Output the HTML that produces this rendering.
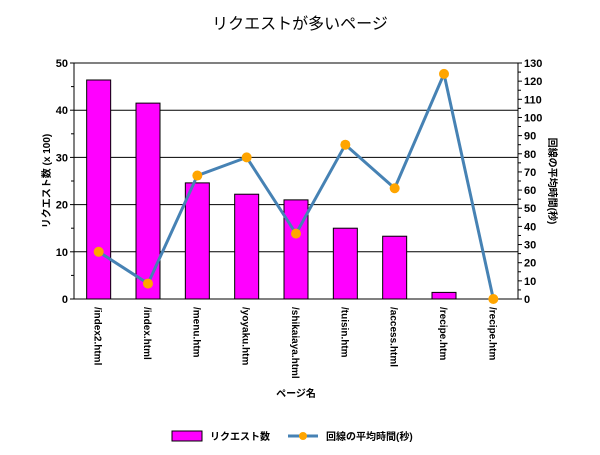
<!DOCTYPE html>
<html><head><meta charset="utf-8"><style>
body{margin:0;background:#fff;width:600px;height:450px;overflow:hidden}
svg text{font-family:"Liberation Sans","Noto Sans CJK JP",sans-serif;}
</style></head><body>
<svg id="c" width="600" height="450" xmlns="http://www.w3.org/2000/svg">
<text x="300" y="29" text-anchor="middle" font-size="16">リクエストが多いページ</text>
<g id="g"></g>
</svg>
<script>
const categories=["/index2.html","/index.html","/menu.htm","/yoyaku.htm","/shikaiaya.html","/tuisin.htm","/access.html","/recipe.htm","/recipe.htm"];
const requests=[46.4,41.5,24.6,22.2,21,15,13.3,1.4,0];
const avgTime=[26,8.5,68,78,36,85,61,124,0];
const leftTicks=[0,10,20,30,40,50];
const rightTicks=[0,10,20,30,40,50,60,70,80,90,100,110,120,130];
const L=74,R=518,T=63,B=299;
const yl=v=>B-(v/50)*(B-T), yr=v=>B-(v/130)*(B-T);
const bw=(R-L)/categories.length, xc=i=>L+bw*(i+0.5);
const g=document.getElementById('g');const NS="http://www.w3.org/2000/svg";
function mk(t,a,txt){const e=document.createElementNS(NS,t);for(const k in a)e.setAttribute(k,a[k]);if(txt!=null)e.textContent=txt;g.appendChild(e);return e;}
leftTicks.forEach(v=>{
 if(v>0){const l=mk('line',{x1:L,x2:R,y1:yl(v),y2:yl(v),stroke:'#000','stroke-width':1});
 
 }
 const t=mk('text',{x:L-6,y:yl(v)+4,'text-anchor':'end','font-size':11,'font-weight':'bold'},v);
 
 
 mk('line',{x1:L-4,x2:L,y1:yl(v),y2:yl(v),stroke:'#000'});
 if(v<50)mk('line',{x1:L-3,x2:L,y1:yl(v+5),y2:yl(v+5),stroke:'#000'});
});
rightTicks.forEach(v=>{
 const t=mk('text',{x:R+6,y:yr(v)+4,'font-size':11,'font-weight':'bold'},v);
 
 
 mk('line',{x1:R,x2:R+4,y1:yr(v),y2:yr(v),stroke:'#000'});
 if(v<130)mk('line',{x1:R,x2:R+3,y1:yr(v+5),y2:yr(v+5),stroke:'#000'});
});
requests.forEach((v,i)=>{
 const r=mk('rect',{x:xc(i)-12,y:yl(v),width:24,height:B-yl(v),fill:'#ff00ff',stroke:'#000','stroke-width':1});
 
 
});
mk('line',{x1:L,x2:L,y1:T,y2:B,stroke:'#000'});
mk('line',{x1:R,x2:R,y1:T,y2:B,stroke:'#000'});
mk('line',{x1:L,x2:R,y1:B,y2:B,stroke:'#000'});
mk('line',{x1:L,x2:R,y1:T,y2:T,stroke:'#000'});
const pl=mk('polyline',{points:avgTime.map((v,i)=>xc(i)+','+yr(v)).join(' '),fill:'none',stroke:'#4682b4','stroke-width':3});


avgTime.forEach((v,i)=>{
 const c=mk('circle',{cx:xc(i),cy:yr(v),r:5,fill:'#ffa500'});
 
 
});
categories.forEach((c,i)=>{
 const t=mk('text',{transform:`translate(${xc(i)-4},${B+8}) rotate(90)`,'font-size':10,'font-weight':'bold'},c);
 
 
});
const xt=mk('text',{x:296,y:397,'text-anchor':'middle','font-size':10,'font-weight':'bold'},'ページ名');


const ylt=mk('text',{transform:`translate(50,181) rotate(-90)`,'text-anchor':'middle','font-size':10,'font-weight':'bold'},'リクエスト数 (x 100)');


const yrt=mk('text',{transform:`translate(549,181) rotate(90)`,'text-anchor':'middle','font-size':10,'font-weight':'bold'},'回線の平均時間(秒)');


const lg1=mk('rect',{x:172,y:431,width:30,height:10,fill:'#ff00ff',stroke:'#000'});


const lt1=mk('text',{x:210,y:440,'font-size':10,'font-weight':'bold'},'リクエスト数');


mk('line',{x1:288,x2:318,y1:436,y2:436,stroke:'#4682b4','stroke-width':3});
mk('circle',{cx:303,cy:436,r:4,fill:'#ffa500'});
const lt2=mk('text',{x:326,y:440,'font-size':10,'font-weight':'bold'},'回線の平均時間(秒)');


</script>
</body></html>
